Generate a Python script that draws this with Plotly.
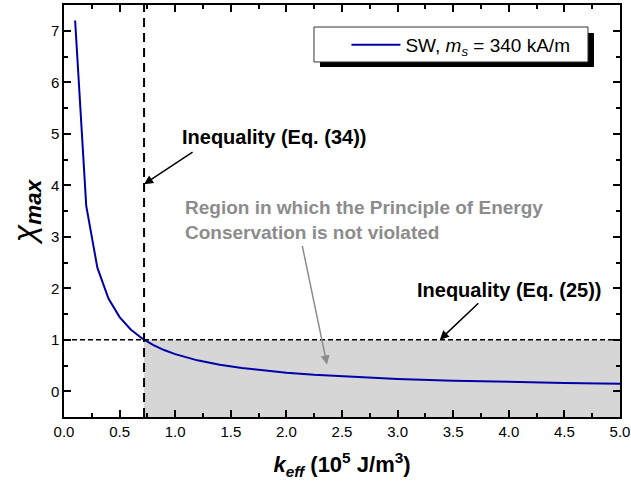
import plotly.graph_objects as go

k_eff = [0.1, 0.2, 0.3, 0.4, 0.5, 0.6, 0.7, 0.8, 0.9, 1.0, 1.2, 1.4, 1.6, 1.8, 2.0,
         2.25, 2.5, 2.75, 3.0, 3.5, 4.0, 4.5, 5.0]
chi_max = [7.2, 3.6, 2.4, 1.8, 1.44, 1.2, 1.03, 0.9, 0.8, 0.72, 0.6, 0.515, 0.45, 0.4, 0.36,
           0.32, 0.29, 0.262, 0.24, 0.206, 0.18, 0.16, 0.144]

k_limit = 0.72      # Eq. (34)
chi_limit = 1.0     # Eq. (25)
x_range = [0, 5.0]
y_range = [-0.5, 7.5]

fig = go.Figure()
fig.add_trace(go.Scatter(
    x=k_eff, y=chi_max, mode="lines",
    line=dict(color="#0000a8", width=2),
    name="SW, <i>m</i><sub><i>s</i></sub> = 340 kA/m",
))

# shaded allowed region
fig.add_shape(type="rect", xref="x", yref="y", x0=k_limit, x1=x_range[1],
              y0=y_range[0], y1=chi_limit, fillcolor="#d6d6d6",
              line=dict(width=0), layer="below")
# vertical dashed line
fig.add_shape(type="line", xref="x", yref="y", x0=k_limit, x1=k_limit,
              y0=y_range[0], y1=y_range[1],
              line=dict(color="black", width=2, dash="9px,6px"))
# horizontal dotted line
fig.add_shape(type="line", xref="x", yref="y", x0=x_range[0], x1=x_range[1],
              y0=chi_limit, y1=chi_limit,
              line=dict(color="black", width=1.5, dash="5px,3px"))
# legend frame with drop shadow
fig.add_shape(type="rect", xref="paper", yref="paper",
              x0=0.4604, x1=0.9532, y0=0.8495, y1=0.9320,
              fillcolor="black", line=dict(width=0), layer="below")
fig.add_shape(type="rect", xref="paper", yref="paper",
              x0=0.4496, x1=0.9424, y0=0.8617, y1=0.9466,
              fillcolor="white", line=dict(color="#333", width=1), layer="below")

fig.add_annotation(x=k_limit, y=4.02, ax=50, ay=-33,
                   xref="x", yref="y", text="", showarrow=True, arrowhead=2,
                   arrowsize=1.2, arrowwidth=1.5, arrowcolor="black")
fig.add_annotation(x=1.043, y=4.93, xref="x", yref="y", xanchor="left",
                   text="<b>Inequality (Eq. (34))</b>", showarrow=False,
                   font=dict(size=20, color="black"))

fig.add_annotation(x=3.38, y=chi_limit, xref="x", yref="y", text="", showarrow=True,
                   ax=40, ay=-38, arrowhead=2, arrowsize=1.2, arrowwidth=1.5,
                   arrowcolor="black")
fig.add_annotation(x=3.157, y=1.96, xref="x", yref="y", xanchor="left",
                   text="<b>Inequality (Eq. (25))</b>", showarrow=False,
                   font=dict(size=20, color="black"))

fig.add_annotation(x=2.365, y=0.52, xref="x", yref="y", text="", showarrow=True,
                   ax=-25, ay=-120, arrowhead=2, arrowsize=1.2, arrowwidth=1.5,
                   arrowcolor="#8c8c8c")
fig.add_annotation(x=1.07, y=3.32, xref="x", yref="y", xanchor="left", align="left",
                   text="<b>Region in which the Principle of Energy<br>Conservation is not violated</b>",
                   showarrow=False, font=dict(size=19, color="#8c8c8c"))

axis_common = dict(showline=True, linecolor="black", linewidth=1.5, mirror="ticks",
                   ticks="inside", ticklen=7, tickwidth=1.5, tickcolor="black",
                   showgrid=False, zeroline=False, automargin=False,
                   tickfont=dict(size=15, color="black"))

fig.update_xaxes(range=x_range, dtick=0.5, tick0=0, tickformat=".1f",
                 minor=dict(ticks="inside", ticklen=4, dtick=0.25, tickcolor="black", tickwidth=1.5),
                 title=dict(text="<b><i>k</i><sub><i>eff</i></sub> (10<sup>5</sup> J/m<sup>3</sup>)</b>",
                            font=dict(size=22, color="black"), standoff=18),
                 **axis_common)
fig.update_yaxes(range=y_range, dtick=1, tick0=0,
                 minor=dict(ticks="inside", ticklen=4, dtick=0.5, tickcolor="black", tickwidth=1.5),
                 title=dict(text="<i>χ</i><sub><b><i>max</i></b></sub>",
                            font=dict(size=32, color="black"), standoff=6),
                 **axis_common)

fig.update_layout(
    width=631, height=494,
    margin=dict(l=64, r=11, t=5, b=77),
    plot_bgcolor="white", paper_bgcolor="white",
    font=dict(family="Liberation Sans, Arial, sans-serif", color="black"),
    showlegend=True,
    legend=dict(x=0.508, y=0.949, xanchor="left", yanchor="top",
                bgcolor="rgba(0,0,0,0)", borderwidth=0,
                font=dict(size=19, color="black"), itemwidth=49,
                tracegroupgap=0),
)

fig.write_html("out.html", config={"displayModeBar": False},
               post_script="document.body.style.margin='0';")
